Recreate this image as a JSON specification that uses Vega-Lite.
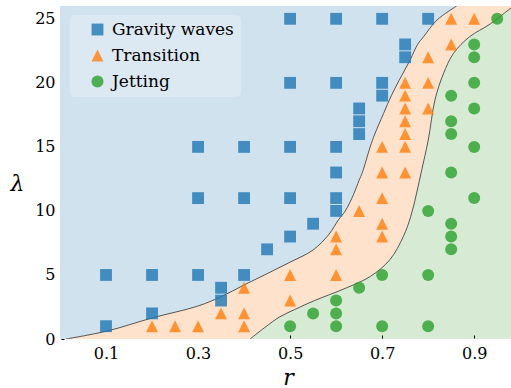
{
  "$schema": "https://vega.github.io/schema/vega-lite/v6.json",
  "width": 451,
  "height": 333,
  "autosize": {"type": "none"},
  "padding": {"left": 60, "top": 6, "right": 0, "bottom": 49},
  "background": "white",
  "config": {
    "font": "DejaVu Serif",
    "view": {"stroke": null, "fill": "#d7ebd4"},
    "axis": {
      "grid": false,
      "domain": false,
      "labelFont": "DejaVu Serif",
      "labelFontSize": 16,
      "labelColor": "#000",
      "tickColor": "#000",
      "tickWidth": 1,
      "tickSize": 3,
      "offset": -4,
      "titleFont": "DejaVu Serif",
      "titleFontStyle": "italic",
      "titleFontWeight": "normal",
      "titleColor": "#000"
    }
  },
  "datasets": {
    "upper": [
      {"lam": 0, "r": 0.013},
      {"lam": 0.62, "r": 0.102},
      {"lam": 1.64, "r": 0.2},
      {"lam": 2.58, "r": 0.3},
      {"lam": 3.3, "r": 0.35},
      {"lam": 4.22, "r": 0.4},
      {"lam": 5.1, "r": 0.45},
      {"lam": 6.0, "r": 0.5},
      {"lam": 6.95, "r": 0.55},
      {"lam": 8.2, "r": 0.585},
      {"lam": 9.3, "r": 0.605},
      {"lam": 10.0, "r": 0.62},
      {"lam": 11.3, "r": 0.638},
      {"lam": 12.4, "r": 0.65},
      {"lam": 13.0, "r": 0.657},
      {"lam": 15.0, "r": 0.674},
      {"lam": 16.0, "r": 0.684},
      {"lam": 17.6, "r": 0.703},
      {"lam": 19.0, "r": 0.72},
      {"lam": 20.2, "r": 0.737},
      {"lam": 21.8, "r": 0.761},
      {"lam": 23.0, "r": 0.777},
      {"lam": 23.6, "r": 0.79},
      {"lam": 24.9, "r": 0.819},
      {"lam": 26.0, "r": 0.862}
    ],
    "lower": [
      {"lam": 0, "r": 0.413},
      {"lam": 0.9, "r": 0.445},
      {"lam": 1.74, "r": 0.478},
      {"lam": 2.3, "r": 0.51},
      {"lam": 3.0, "r": 0.553},
      {"lam": 4.0, "r": 0.623},
      {"lam": 4.9, "r": 0.675},
      {"lam": 6.2, "r": 0.717},
      {"lam": 8.0, "r": 0.746},
      {"lam": 9.55, "r": 0.762},
      {"lam": 11.4, "r": 0.775},
      {"lam": 13.2, "r": 0.786},
      {"lam": 15.5, "r": 0.8},
      {"lam": 18.7, "r": 0.815},
      {"lam": 20.7, "r": 0.833},
      {"lam": 22.3, "r": 0.855},
      {"lam": 23.6, "r": 0.89},
      {"lam": 24.6, "r": 0.935},
      {"lam": 26.0, "r": 0.985}
    ],
    "points": [
      {"r": 0.1, "lam": 1, "regime": "Gravity waves"},
      {"r": 0.1, "lam": 5, "regime": "Gravity waves"},
      {"r": 0.2, "lam": 2, "regime": "Gravity waves"},
      {"r": 0.2, "lam": 5, "regime": "Gravity waves"},
      {"r": 0.3, "lam": 5, "regime": "Gravity waves"},
      {"r": 0.3, "lam": 11, "regime": "Gravity waves"},
      {"r": 0.3, "lam": 15, "regime": "Gravity waves"},
      {"r": 0.35, "lam": 3, "regime": "Gravity waves"},
      {"r": 0.35, "lam": 4, "regime": "Gravity waves"},
      {"r": 0.4, "lam": 5, "regime": "Gravity waves"},
      {"r": 0.4, "lam": 11, "regime": "Gravity waves"},
      {"r": 0.4, "lam": 15, "regime": "Gravity waves"},
      {"r": 0.45, "lam": 7, "regime": "Gravity waves"},
      {"r": 0.5, "lam": 8, "regime": "Gravity waves"},
      {"r": 0.5, "lam": 11, "regime": "Gravity waves"},
      {"r": 0.5, "lam": 15, "regime": "Gravity waves"},
      {"r": 0.5, "lam": 20, "regime": "Gravity waves"},
      {"r": 0.5, "lam": 25, "regime": "Gravity waves"},
      {"r": 0.55, "lam": 9, "regime": "Gravity waves"},
      {"r": 0.6, "lam": 10, "regime": "Gravity waves"},
      {"r": 0.6, "lam": 11, "regime": "Gravity waves"},
      {"r": 0.6, "lam": 13, "regime": "Gravity waves"},
      {"r": 0.6, "lam": 15, "regime": "Gravity waves"},
      {"r": 0.6, "lam": 20, "regime": "Gravity waves"},
      {"r": 0.6, "lam": 25, "regime": "Gravity waves"},
      {"r": 0.65, "lam": 16, "regime": "Gravity waves"},
      {"r": 0.65, "lam": 17, "regime": "Gravity waves"},
      {"r": 0.65, "lam": 18, "regime": "Gravity waves"},
      {"r": 0.7, "lam": 19, "regime": "Gravity waves"},
      {"r": 0.7, "lam": 20, "regime": "Gravity waves"},
      {"r": 0.7, "lam": 25, "regime": "Gravity waves"},
      {"r": 0.75, "lam": 22, "regime": "Gravity waves"},
      {"r": 0.75, "lam": 23, "regime": "Gravity waves"},
      {"r": 0.8, "lam": 25, "regime": "Gravity waves"},
      {"r": 0.2, "lam": 1, "regime": "Transition"},
      {"r": 0.25, "lam": 1, "regime": "Transition"},
      {"r": 0.3, "lam": 1, "regime": "Transition"},
      {"r": 0.35, "lam": 2, "regime": "Transition"},
      {"r": 0.4, "lam": 1, "regime": "Transition"},
      {"r": 0.4, "lam": 2, "regime": "Transition"},
      {"r": 0.4, "lam": 4, "regime": "Transition"},
      {"r": 0.5, "lam": 3, "regime": "Transition"},
      {"r": 0.5, "lam": 5, "regime": "Transition"},
      {"r": 0.6, "lam": 5, "regime": "Transition"},
      {"r": 0.6, "lam": 7, "regime": "Transition"},
      {"r": 0.6, "lam": 8, "regime": "Transition"},
      {"r": 0.65, "lam": 10, "regime": "Transition"},
      {"r": 0.7, "lam": 8, "regime": "Transition"},
      {"r": 0.7, "lam": 9, "regime": "Transition"},
      {"r": 0.7, "lam": 11, "regime": "Transition"},
      {"r": 0.7, "lam": 13, "regime": "Transition"},
      {"r": 0.7, "lam": 15, "regime": "Transition"},
      {"r": 0.75, "lam": 13, "regime": "Transition"},
      {"r": 0.75, "lam": 15, "regime": "Transition"},
      {"r": 0.75, "lam": 16, "regime": "Transition"},
      {"r": 0.75, "lam": 17, "regime": "Transition"},
      {"r": 0.75, "lam": 18, "regime": "Transition"},
      {"r": 0.75, "lam": 19, "regime": "Transition"},
      {"r": 0.75, "lam": 20, "regime": "Transition"},
      {"r": 0.8, "lam": 18, "regime": "Transition"},
      {"r": 0.8, "lam": 20, "regime": "Transition"},
      {"r": 0.8, "lam": 22, "regime": "Transition"},
      {"r": 0.85, "lam": 23, "regime": "Transition"},
      {"r": 0.85, "lam": 25, "regime": "Transition"},
      {"r": 0.9, "lam": 25, "regime": "Transition"},
      {"r": 0.5, "lam": 1, "regime": "Jetting"},
      {"r": 0.55, "lam": 2, "regime": "Jetting"},
      {"r": 0.6, "lam": 1, "regime": "Jetting"},
      {"r": 0.6, "lam": 2, "regime": "Jetting"},
      {"r": 0.6, "lam": 3, "regime": "Jetting"},
      {"r": 0.65, "lam": 4, "regime": "Jetting"},
      {"r": 0.7, "lam": 1, "regime": "Jetting"},
      {"r": 0.7, "lam": 5, "regime": "Jetting"},
      {"r": 0.8, "lam": 1, "regime": "Jetting"},
      {"r": 0.8, "lam": 5, "regime": "Jetting"},
      {"r": 0.8, "lam": 10, "regime": "Jetting"},
      {"r": 0.85, "lam": 7, "regime": "Jetting"},
      {"r": 0.85, "lam": 8, "regime": "Jetting"},
      {"r": 0.85, "lam": 9, "regime": "Jetting"},
      {"r": 0.85, "lam": 13, "regime": "Jetting"},
      {"r": 0.85, "lam": 16, "regime": "Jetting"},
      {"r": 0.85, "lam": 17, "regime": "Jetting"},
      {"r": 0.85, "lam": 19, "regime": "Jetting"},
      {"r": 0.9, "lam": 11, "regime": "Jetting"},
      {"r": 0.9, "lam": 15, "regime": "Jetting"},
      {"r": 0.9, "lam": 18, "regime": "Jetting"},
      {"r": 0.9, "lam": 20, "regime": "Jetting"},
      {"r": 0.9, "lam": 22, "regime": "Jetting"},
      {"r": 0.9, "lam": 23, "regime": "Jetting"},
      {"r": 0.95, "lam": 25, "regime": "Jetting"}
    ]
  },
  "encoding": {
    "x": {
      "field": "r",
      "type": "quantitative",
      "stack": null,
      "scale": {"domain": [0, 0.98], "nice": false, "zero": false},
      "axis": {
        "values": [0.1, 0.3, 0.5, 0.7, 0.9],
        "format": ".1f",
        "labelPadding": 7,
        "title": "r",
        "titleFontSize": 22,
        "titleX": 228,
        "titleY": 49,
        "titleAlign": "center",
        "titleBaseline": "alphabetic"
      }
    },
    "y": {
      "field": "lam",
      "type": "quantitative",
      "scale": {"domain": [0, 26], "nice": false, "zero": false},
      "axis": {
        "values": [0, 5, 10, 15, 20, 25],
        "labelPadding": 6,
        "title": "λ",
        "titleAngle": 0,
        "titleFontSize": 22,
        "titleX": -47,
        "titleY": 184,
        "titleAlign": "center",
        "titleBaseline": "alphabetic"
      }
    }
  },
  "layer": [
    {
      "data": {"name": "lower"},
      "mark": {"type": "area", "orient": "horizontal", "color": "#fee2cc", "opacity": 1, "interpolate": "catmull-rom", "clip": true}
    },
    {
      "data": {"name": "upper"},
      "mark": {"type": "area", "orient": "horizontal", "color": "#d1e2ef", "opacity": 1, "interpolate": "catmull-rom", "clip": true}
    },
    {
      "data": {"name": "lower"},
      "mark": {"type": "line", "color": "#444444", "strokeWidth": 0.9, "interpolate": "catmull-rom", "clip": true},
      "encoding": {"order": {"field": "lam", "type": "quantitative"}}
    },
    {
      "data": {"name": "upper"},
      "mark": {"type": "line", "color": "#444444", "strokeWidth": 0.9, "interpolate": "catmull-rom", "clip": true},
      "encoding": {"order": {"field": "lam", "type": "quantitative"}}
    },
    {
      "data": {"name": "points"},
      "mark": {"type": "point", "filled": true, "opacity": 0.8, "strokeWidth": 0},
      "encoding": {
        "color": {
          "field": "regime",
          "type": "nominal",
          "sort": null,
          "scale": {"domain": ["Gravity waves", "Transition", "Jetting"], "range": ["#1f77b4", "#ff7f0e", "#2ca02c"]},
          "legend": {
            "title": null,
            "orient": "none",
            "legendX": 10,
            "legendY": 9,
            "fillColor": "#dce8f2",
            "strokeColor": "#dce8f2",
            "cornerRadius": 4,
            "padding": 6,
            "labelFont": "DejaVu Serif",
            "labelFontSize": 17,
            "labelColor": "#000",
            "symbolOffset": 13,
            "labelOffset": 6,
            "rowPadding": 8
          }
        },
        "shape": {
          "field": "regime",
          "type": "nominal",
          "sort": null,
          "scale": {"domain": ["Gravity waves", "Transition", "Jetting"], "range": ["square", "M0,-1L1,1L-1,1Z", "circle"]}
        },
        "size": {
          "field": "regime",
          "type": "nominal",
          "sort": null,
          "scale": {"domain": ["Gravity waves", "Transition", "Jetting"], "range": [140, 144, 105]}
        }
      }
    }
  ]
}
